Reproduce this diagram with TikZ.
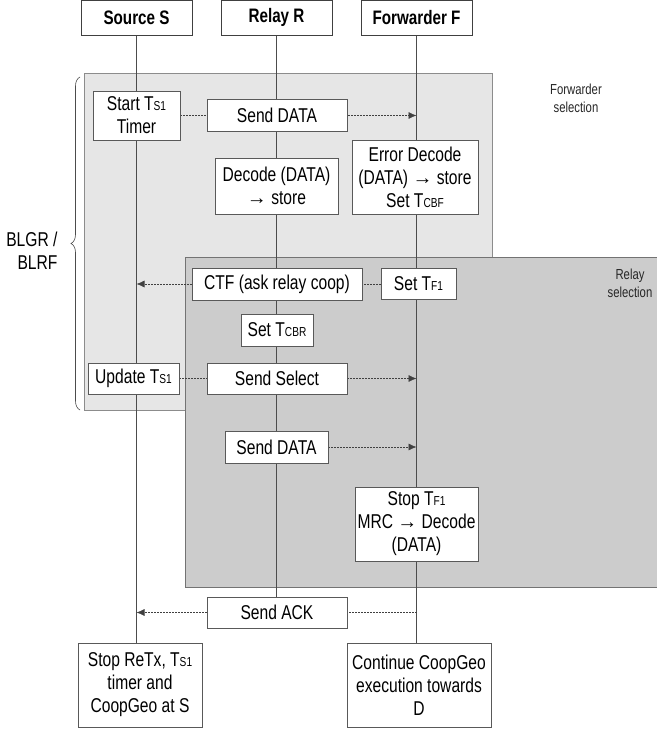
\documentclass[tikz,border=0pt]{standalone}
\usepackage{fontspec}
\setmainfont{Liberation Sans}[FakeStretch=0.78]
\newfontfamily\arrowfont{Liberation Sans}
\newcommand\rarr{{\arrowfont →}}
\usetikzlibrary{arrows.meta,decorations.pathreplacing}
\pgfdeclarelayer{bg}
\pgfdeclarelayer{mid}
\pgfsetlayers{bg,mid,main}
\newcommand\sbs[1]{{\fontsize{13}{13}\selectfont #1}}
\definecolor{lightreg}{HTML}{E6E6E6}
\definecolor{darkreg}{HTML}{CCCCCC}
\tikzset{
  hdr/.style={draw=black!75, fill=white, line width=0.9pt, inner sep=0pt, minimum width=111pt, minimum height=35pt, font=\fontsize{19.5}{22}\selectfont\bfseries},
  box/.style={draw=black!65, fill=white, line width=0.8pt, inner sep=0pt, align=center, font=\fontsize{20}{23}\selectfont},
  life/.style={draw=black!70, line width=0.8pt},
  msg/.style={draw=black!75, line width=0.6pt, dash pattern=on 2pt off 1pt, -{Latex[length=8pt,width=7pt]}},
  reglabel/.style={align=center, font=\fontsize{14.5}{18}\selectfont, text=black!85},
}
\begin{document}
\begin{tikzpicture}[x=1pt,y=-1pt]
\useasboundingbox (0,0) rectangle (656,730);
% headers
\node[hdr] (hS) at (136.5,17.5) {Source S};
\node[hdr] (hR) at (276.5,17.5) {Relay R};
\node[hdr] (hF) at (416.5,17.5) {Forwarder F};
% boxes
\node[box, minimum width=87pt, minimum height=49pt] (start) at (136.5,115.5) {Start T\sbs{S1}\\Timer};
\node[box, minimum width=140pt, minimum height=32pt] (sd1) at (277,115) {Send DATA};
\node[box, minimum width=123pt, minimum height=56pt] (dec) at (276.5,186) {Decode (DATA)\\\rarr{} store};
\node[box, minimum width=126pt, minimum height=74pt] (err) at (415,177) {Error Decode\\(DATA) \rarr{} store\\Set T\sbs{CBF}};
\node[box, minimum width=170pt, minimum height=32pt] (ctf) at (277,284) {CTF (ask relay coop)};
\node[box, minimum width=75pt, minimum height=31pt] (stf) at (418.5,284) {Set T\sbs{F1}};
\node[box, minimum width=72pt, minimum height=32pt] (scbr) at (277,330) {Set T\sbs{CBR}};
\node[box, minimum width=91pt, minimum height=31pt] (upd) at (133.5,378.5) {Update T\sbs{S1}};
\node[box, minimum width=140pt, minimum height=31pt] (ssel) at (277,378.5) {Send Select};
\node[box, minimum width=103pt, minimum height=32pt] (sd2) at (276.5,447) {Send DATA};
\node[box, minimum width=123pt, minimum height=74pt] (stop) at (416.5,524) {Stop T\sbs{F1}\\MRC \rarr{} Decode\\(DATA)};
\node[box, minimum width=140pt, minimum height=31pt] (ack) at (277,612.5) {Send ACK};
\node[box, minimum width=124pt, minimum height=84pt] (retx) at (140,685) {Stop ReTx, T\sbs{S1}\\timer and\\CoopGeo at S};
\node[box, minimum width=144pt, minimum height=84pt] (cont) at (419,685) {Continue CoopGeo\\execution towards\\D};
% region labels
\node[reglabel] (fsel) at (576,98) {Forwarder\\selection};
\node[reglabel] (rsel) at (630,283) {Relay\\selection};
\node[align=right, anchor=east, font=\fontsize{20}{23}\selectfont] (blgr) at (61,251) {BLGR /\\BLRF};
\begin{pgfonlayer}{bg}
  \fill[lightreg, draw=black!45, line width=0.8pt] (84,73) rectangle (492,410);
  \fill[darkreg, draw=black!55, line width=0.8pt] (185,257) rectangle (670,587);
  \draw[black!70, line width=0.6pt, decorate, decoration={brace, amplitude=9pt}] (80,410) -- (80,77);
\end{pgfonlayer}
\begin{pgfonlayer}{mid}
  \draw[life] (hS.south) -- (hS.south |- retx.north);
  \draw[life] (hR.south) -- (hR.south |- ack.north);
  \draw[life] (hF.south) -- (hF.south |- cont.north);
  \draw[msg] (start.east) -- (hF.south |- start.east);
  \draw[msg] (stf.west) -- (hS.south |- stf.west);
  \draw[msg] (upd.east) -- (hF.south |- upd.east);
  \draw[msg] (sd2.east) -- (hF.south |- sd2.east);
  \draw[msg] (hF.south |- ack.east) -- (hS.south |- ack.west);
\end{pgfonlayer}
\end{tikzpicture}
\end{document}
